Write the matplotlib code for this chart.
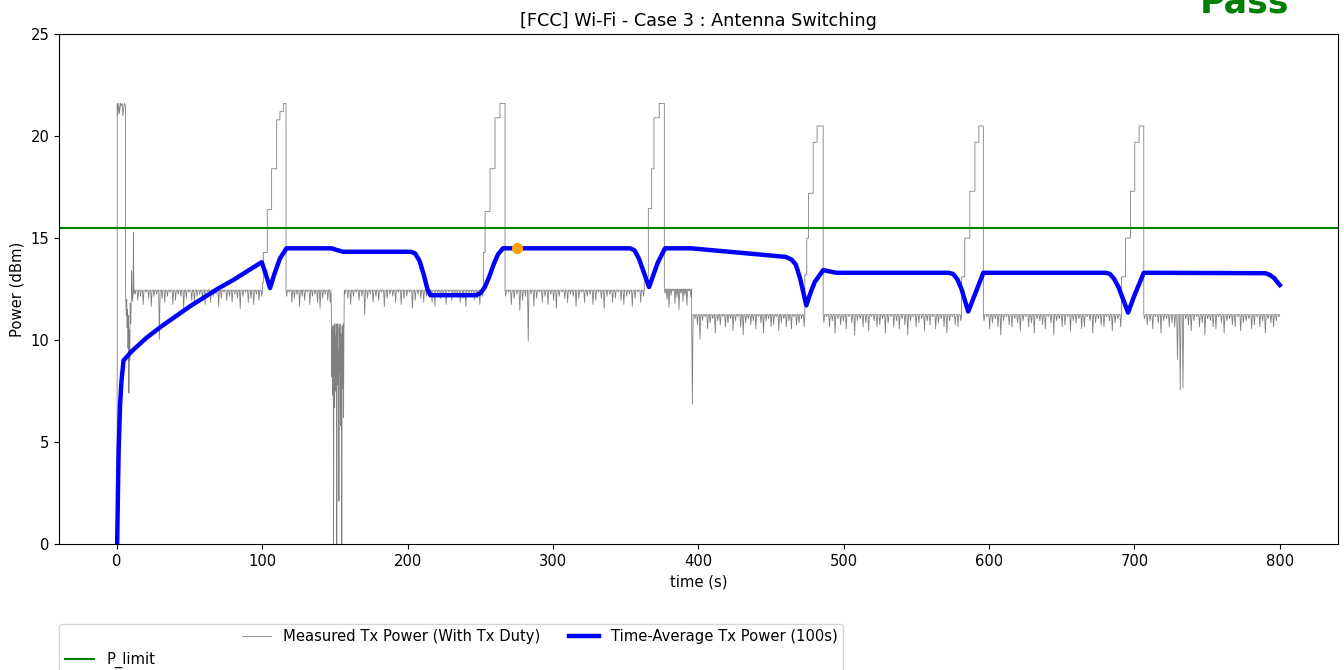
import numpy as np
import matplotlib
matplotlib.use("Agg")
import matplotlib.pyplot as plt
from matplotlib.lines import Line2D

plt.rcParams["font.size"] = 10.6

P_LIMIT = 15.5

# burst 1 top block and the transient right after it (s, dBm)
B1_T = [0.0, 0.05, 0.3, 1.2, 1.5, 2.4, 2.7, 3.6, 3.9, 4.8, 5.1, 5.7]
B1_P = [0.0, 21.6, 21.0, 21.6, 21.1, 21.6, 21.5, 21.6, 21.0, 21.5, 21.6, 21.5]
TR_T = [5.8, 6.3, 6.6, 6.9, 7.2, 7.5, 7.8, 8.1, 8.4, 8.7, 9.0, 9.4, 9.8, 10.0,
        10.3, 10.7, 11.0, 11.2, 11.5, 11.9]
TR_P = [12.4, 11.2, 12.0, 10.6, 11.5, 9.6, 11.2, 7.4, 10.5, 9.0, 11.8, 10.8, 12.3,
        13.4, 12.2, 11.9, 12.4, 15.3, 12.3, 12.45]

# flat stretches: start, end, level, drops below level (0.1 dB)
SEG_A = (11.9, 100.0, 12.45,
         [2, 5, 3, 7, 1, 4, 8, 3, 2, 24, 4, 6, 3, 1, 7, 5, 2, 3, 9, 4, 1, 5, 6, 3,
          2, 4, 7, 1, 6, 3, 2, 8, 4, 1, 5, 3, 6, 2, 4, 9, 3, 1, 6, 4, 7, 2, 5, 3])
SEG_B = (116.2, 147.2, 12.45,
         [3, 1, 6, 4, 2, 8, 3, 5, 1, 7, 3, 2, 6, 9, 4, 2, 5, 6])
SEG_D = (156.3, 252.0, 12.45,
         [2, 4, 7, 3, 1, 5, 3, 12, 4, 2, 6, 3, 5, 1, 8, 4, 2, 3, 6, 1, 7, 4, 3, 1, 9,
          5, 2, 4, 6, 3, 1, 6, 8, 2, 4, 3, 7, 1, 5, 3, 2, 6, 4, 8, 3, 1, 5, 4, 7, 3])
SEG_E = (266.9, 362.7, 12.45,
         [3, 1, 7, 4, 2, 10, 5, 3, 25, 2, 8, 4, 1, 6, 3, 7, 2, 5, 9, 3, 1, 4, 6, 2, 3,
          8, 4, 1, 6, 3, 2, 7, 5, 1, 4, 9, 3, 2, 6, 4, 1, 5, 7, 3, 2, 8, 4, 1, 6, 3])
SEG_F = (376.5, 395.3, 12.5,
         [2, 5, 9, 3, 1, 7, 4, 10, 2, 6, 3, 8, 1, 4])
SEG_G = (395.3, 473.2, 11.25,
         [44, 2, 5, 12, 3, 1, 7, 4, 2, 9, 3, 5, 1, 6, 4, 2, 8, 3, 1, 6, 10, 4, 2, 5,
          3, 7, 1, 4, 9, 3, 2, 6, 5, 1, 8, 4, 2, 6, 3, 7, 1, 5, 4, 2, 6])
SEG_H = (485.8, 581.0, 11.25,
         [4, 1, 6, 3, 9, 2, 5, 3, 7, 1, 4, 10, 3, 2, 6, 4, 8, 1, 3, 6, 5, 2, 9, 4, 1,
          6, 3, 7, 2, 5, 10, 3, 1, 6, 4, 2, 8, 3, 5, 1, 7, 4, 2, 6, 9, 3, 1, 5, 6, 3])
SEG_I = (596.0, 691.0, 11.25,
         [3, 1, 7, 4, 2, 6, 10, 3, 1, 5, 6, 2, 4, 8, 3, 1, 6, 4, 9, 2, 3, 5, 7, 1, 4,
          10, 3, 2, 6, 5, 1, 8, 3, 4, 2, 7, 6, 1, 3, 9, 4, 2, 5, 6, 1, 3, 8, 4, 2, 6])
SEG_J = (706.4, 800.0, 11.25,
         [2, 5, 3, 7, 1, 4, 9, 3, 2, 6, 4, 6, 22, 37, 36, 2, 5, 8, 3, 1, 6, 4, 10, 2,
          3, 6, 7, 1, 4, 9, 3, 2, 5, 6, 1, 8, 4, 3, 2, 7, 5, 1, 6, 3, 9, 2, 4, 6, 3, 1])

# dense low stretch around 150 s (absolute dBm)
SEG_C_T = (147.2, 156.3)
SEG_C_P = [12.45, 10.8, 8.2, 10.5, 7.3, 10.7, 9.1, 0.0, 9.8, 10.8, 6.7, 10.2, 7.5,
           8.9, 10.8, 7.1, 0.0, 10.4, 7.8, 10.8, 8.6, 9.5, 2.1, 10.6, 8.4, 10.8, 7.0,
           5.8, 10.3, 8.0, 0.0, 10.7, 7.6, 9.1, 10.8, 6.2, 10.5, 12.45]

# antenna-switch bursts: step start times, step levels, end time
BURST2 = ([100.0, 100.6, 103.3, 106.3, 109.8, 112.0, 114.4], [12.8, 14.3, 16.4, 18.4, 20.8, 21.2, 21.6], 116.2)
BURST3 = ([252.0, 253.2, 256.6, 260.0, 263.4], [14.3, 16.3, 18.4, 20.9, 21.6], 266.9)
BURST4 = ([362.7, 365.5, 367.8, 369.4, 373.0], [13.1, 16.45, 18.4, 20.9, 21.6], 376.5)
BURST5 = ([473.2, 474.5, 475.7, 478.9, 481.6], [13.2, 15.0, 17.2, 19.7, 20.5], 485.8)
BURST6 = ([581.0, 583.2, 586.7, 590.2, 592.9], [13.1, 15.0, 17.3, 19.7, 20.5], 596.0)
BURST7 = ([691.0, 693.8, 697.2, 700.2, 703.2], [13.1, 15.0, 17.3, 19.7, 20.5], 706.4)

# 100 s time-average
AVG_T = [0, 1, 2, 3, 4.4, 10, 20, 30, 40, 50, 60, 70, 80, 90, 99.5, 102, 105.2, 108,
         112, 116.5, 147.5, 151, 155.5, 202, 205, 208, 211, 213.5, 215.5, 247, 250,
         253, 256, 259, 262, 265.5, 353, 356, 359, 362, 366, 369, 372, 377, 395, 460,
         464, 467, 470, 474.2, 477, 480, 485.8, 495, 572, 575, 578, 581, 585.6, 590,
         596, 680, 683, 686, 689, 695.6, 700, 706.4, 790, 793, 796, 800]
AVG_P = [0, 4.5, 6.8, 8.0, 9.0, 9.45, 10.1, 10.65, 11.15, 11.65, 12.1, 12.55, 12.95,
         13.4, 13.82, 13.3, 12.55, 13.2, 14.0, 14.5, 14.5, 14.42, 14.33, 14.33, 14.25,
         13.9, 13.2, 12.5, 12.2, 12.2, 12.3, 12.6, 13.1, 13.7, 14.2, 14.5, 14.5, 14.4,
         14.0, 13.4, 12.6, 13.2, 13.8, 14.5, 14.5, 14.08, 13.95, 13.7, 13.0, 11.7, 12.3,
         12.85, 13.43, 13.3, 13.3, 13.25, 13.0, 12.5, 11.4, 12.2, 13.3, 13.3, 13.25,
         13.0, 12.6, 11.35, 12.2, 13.3, 13.28, 13.2, 13.05, 12.7]

MAX_T, MAX_P = 275.3, 14.5


def flat(seg, w=0.5):
    # each drop is a narrow spike down from the level
    t0, t1, base, drops = seg
    t, p = [t0], [base]
    for tc, d in zip(np.linspace(t0 + w, t1 - w, len(drops)), drops):
        t += [tc - w, tc, tc + w]
        p += [base, base - d / 10, base]
    t.append(t1)
    p.append(base)
    return t, p


def burst(b):
    ts, ps, end = b
    t, p = [], []
    for i, lvl in enumerate(ps):
        nxt = ts[i + 1] if i + 1 < len(ts) else end
        t += [ts[i], nxt]
        p += [lvl, lvl]
    return t, p


def main():
    pieces = [(B1_T, B1_P), (TR_T, TR_P), flat(SEG_A), burst(BURST2), flat(SEG_B),
              (list(np.linspace(*SEG_C_T, len(SEG_C_P))), SEG_C_P), flat(SEG_D),
              burst(BURST3), flat(SEG_E), burst(BURST4), flat(SEG_F), flat(SEG_G),
              burst(BURST5), flat(SEG_H), burst(BURST6), flat(SEG_I), burst(BURST7),
              flat(SEG_J)]
    meas_t = np.concatenate([np.asarray(a, float) for a, b in pieces])
    meas_p = np.concatenate([np.asarray(b, float) for a, b in pieces])

    fig = plt.figure(figsize=(13.44, 6.7), dpi=100)
    ax = fig.add_axes([0.0439, 0.188, 0.9516, 0.761])

    ax.plot(meas_t, meas_p, color="gray", lw=0.6, label="Measured Tx Power (With Tx Duty)")
    ax.plot(AVG_T, AVG_P, color="blue", lw=3.2, label="Time-Average Tx Power (100s)")
    ax.axhline(P_LIMIT, color="green", lw=1.5, label="P_limit")
    ax.plot(MAX_T, MAX_P, "o", color="orange", markersize=7)

    ax.set_xlim(-40, 840)
    ax.set_ylim(0, 25)
    ax.set_xlabel("time (s)")
    ax.set_ylabel("Power (dBm)")
    ax.set_title("[FCC] Wi-Fi - Case 3 : Antenna Switching")

    h, l = ax.get_legend_handles_labels()
    blank = Line2D([], [], color="none")
    leg = ax.legend([blank, h[2], h[0], h[1]], ["Time-Avg max", l[2], l[0], l[1]],
                    ncol=3, loc="upper left", bbox_to_anchor=(0, -0.156),
                    borderaxespad=0)
    leg.get_texts()[0].set_color("none")

    fig.text(0.926, 0.982, "Pass", color="green", fontsize=25, fontweight="bold",
             ha="center", va="baseline")

    fig.savefig("out.png", dpi=100)


if __name__ == "__main__":
    main()
